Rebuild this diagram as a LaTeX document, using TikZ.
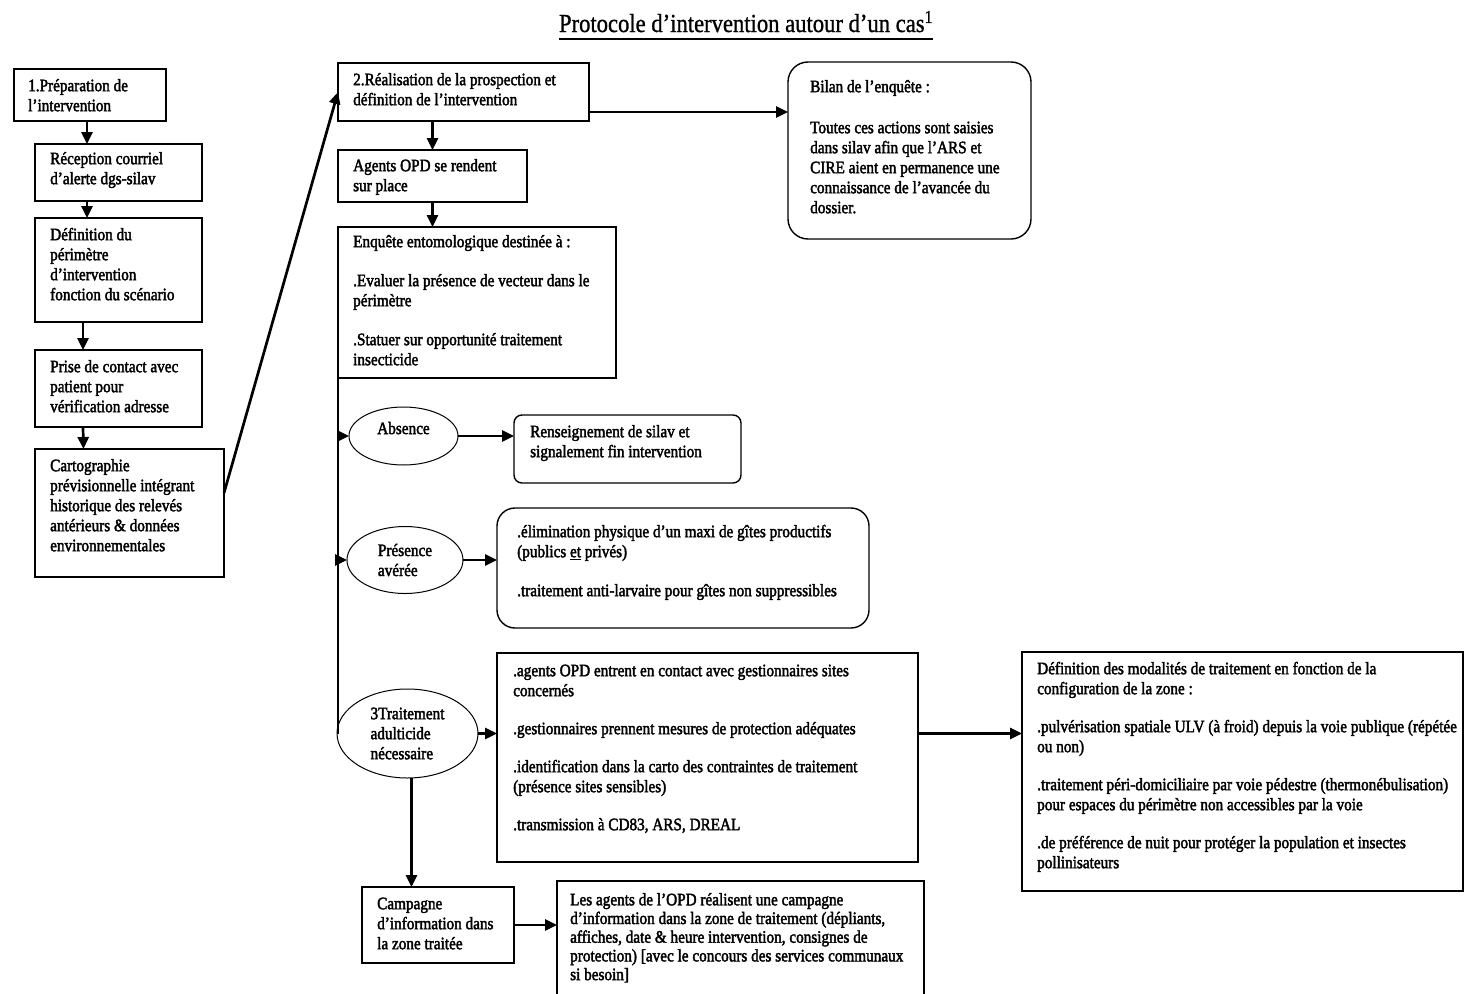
\documentclass[tikz,border=0pt]{standalone}
\usepackage{fontspec}
\usetikzlibrary{arrows.meta,shapes.geometric}
\newfontfamily\bodyfam{Liberation Serif}[FakeStretch=0.87,FakeBold=2.2]
\newfontfamily\titlefam{Liberation Serif}[FakeStretch=0.87,FakeBold=1]
\newcommand\txtf{\bodyfam\fontsize{17.5pt}{20pt}\selectfont}
\newcommand\lesf{\bodyfam\fontsize{17.5pt}{18.7pt}\selectfont}
\newcommand\titf{\titlefam\fontsize{26pt}{30pt}\selectfont}
\begin{document}
\begin{tikzpicture}[x=1pt,y=-1pt,
  boxn/.style={draw, line width=1.4pt, anchor=north west, inner sep=0pt, outer sep=0pt},
  ell/.style={draw, ellipse, line width=1pt, inner sep=0pt, outer sep=0pt, align=left, font=\txtf},
  txt/.style={anchor=north west, inner sep=0pt, align=left, font=\txtf},
  arr/.style={line width=2.7pt, -{Triangle[length=12pt,width=11pt]}},
  trunk/.style={line width=1.4pt}]
\useasboundingbox (0,0) rectangle (1464,993);
\clip (0,0) rectangle (1464,993);

% title
\node[font=\titf, inner sep=0pt, anchor=base] (title) at (746,32) {Protocole d’intervention autour d’un cas\textsuperscript{1}};
\draw[line width=2pt] ([yshift=-7pt]title.base west) -- ([yshift=-7pt]title.base east);

% left column
\node[boxn, minimum width=152pt, minimum height=52pt] (b1) at (14,69) {};
\node[txt] (t1) at (28,77) {\strut 1.Préparation de\\l’intervention};
\node[boxn, minimum width=167pt, minimum height=57pt] (b2) at (35,144) {};
\node[txt] (t2) at (50,150) {\strut Réception courriel\\d’alerte dgs-silav};
\node[boxn, minimum width=167pt, minimum height=104pt] (b3) at (35,218) {};
\node[txt] (t3) at (50,226) {\strut Définition du\\périmètre\\d’intervention\\fonction du scénario};
\node[boxn, minimum width=167pt, minimum height=77pt] (b4) at (35,350) {};
\node[txt] (t4) at (50,358) {\strut Prise de contact avec\\patient pour\\vérification adresse};
\node[boxn, minimum width=189pt, minimum height=128pt] (b5) at (35,449) {};
\node[txt] (t5) at (50,457) {\strut Cartographie\\prévisionnelle intégrant\\historique des relevés\\antérieurs \& données\\environnementales};

% middle column
\node[boxn, minimum width=251pt, minimum height=58pt] (real) at (338,63) {};
\node[txt] (treal) at (353,71) {\strut 2.Réalisation de la prospection et\\définition de l’intervention};
\node[boxn, minimum width=189pt, minimum height=52pt] (agents) at (338,150) {};
\node[txt] (tag) at (353,157) {\strut Agents OPD se rendent\\sur place};
\node[boxn, minimum width=278pt, minimum height=151pt] (enq) at (338,227) {};
\node[txt] (tenq) at (353,233) {\strut Enquête entomologique destinée à :\\[19pt].Evaluer la présence de vecteur dans le\\périmètre\\[19pt].Statuer sur opportunité traitement\\insecticide};

% bilan
\node[boxn, rounded corners=20pt, minimum width=243pt, minimum height=177pt] (bilan) at (788,62) {};
\node[txt] (tbil) at (810,78) {\strut Bilan de l’enquête :\\[21pt]Toutes ces actions sont saisies\\dans silav afin que l’ARS et\\CIRE aient en permanence une\\connaissance de l’avancée du\\dossier.};

% ellipses
\node[ell, minimum width=109pt, minimum height=58pt] (abs) at (403.5,436) {Absence\\[-4pt]\mbox{}};
\node[ell, minimum width=116pt, minimum height=67pt] (pell) at (405,560) {Présence\\avérée};
\node[ell, minimum width=141pt, minimum height=89pt] (trait) at (407.5,733.5) {3Traitement\\adulticide\\nécessaire};

% outcome boxes
\node[boxn, rounded corners=8pt, minimum width=227pt, minimum height=68pt] (rens) at (514,415) {};
\node[txt] (trens) at (530,423) {\strut Renseignement de silav et\\signalement fin intervention};
\node[boxn, rounded corners=18pt, minimum width=372pt, minimum height=120pt] (pbox) at (497,508) {};
\node[txt] (tpres) at (517,523) {\strut .élimination physique d’un maxi de gîtes productifs\\(publics \underline{et} privés)\\[19pt].traitement anti-larvaire pour gîtes non suppressibles};
\node[boxn, minimum width=421pt, minimum height=209pt] (tbox) at (497,653) {};
\node[txt] (ttb) at (513,662) {\strut .agents OPD entrent en contact avec gestionnaires sites\\concernés\\[18pt].gestionnaires prennent mesures de protection adéquates\\[18pt].identification dans la carto des contraintes de traitement\\(présence sites sensibles)\\[18pt].transmission à CD83, ARS, DREAL};
\node[boxn, minimum width=441pt, minimum height=239pt] (rbox) at (1022,652) {};
\node[txt] (trb) at (1037,660) {\strut Définition des modalités de traitement en fonction de la\\configuration de la zone :\\[18pt].pulvérisation spatiale ULV (à froid) depuis la voie publique (répétée\\ou non)\\[18pt].traitement péri-domiciliaire par voie pédestre (thermonébulisation)\\pour espaces du périmètre non accessibles par la voie\\[18pt].de préférence de nuit pour protéger la population et insectes\\pollinisateurs};
\node[boxn, minimum width=152pt, minimum height=76pt] (camp) at (362,887) {};
\node[txt] (tcamp) at (377,895) {\strut Campagne\\d’information dans\\la zone traitée};
\node[boxn, minimum width=367pt, minimum height=150pt] (lesag) at (557,881) {};
\node[txt, font=\lesf] (tles) at (570,892) {\strut Les agents de l’OPD réalisent une campagne\\d’information dans la zone de traitement (dépliants,\\affiches, date \& heure intervention, consignes de\\protection) [avec le concours des services communaux\\si besoin]};

% connectors
\draw[arr] ([xshift=-3pt]b1.south) -- ([xshift=-31.5pt]b2.north);
\draw[arr] ([xshift=-31.5pt]b2.south) -- ([xshift=-31.5pt]b3.north);
\draw[arr] ([xshift=-35.5pt]b3.south) -- ([xshift=-35.5pt]b4.north);
\draw[arr] ([xshift=-35.5pt]b4.south) -- ([xshift=-46pt]b5.north);
\draw[arr] ([yshift=20pt]b5.east) -- (real.west);
\draw[arr] (real.south -| agents.north) -- (agents.north);
\draw[arr] (agents.south) -- (agents.south |- enq.north);
\draw[arr] ([yshift=-20pt]real.east) -- ([yshift=-20pt]real.east -| bilan.west);
\draw[trunk] (enq.south west) -- (enq.south west |- trait.west);
\draw[arr] (abs.west -| enq.south west) -- (abs.west);
\draw[arr] (pell.west -| enq.south west) -- (pell.west);
\draw[arr] (abs.east) -- (abs.east -| rens.west);
\draw[arr] (pell.east) -- (pell.east -| pbox.west);
\draw[arr] (trait.east) -- (trait.east -| tbox.west);
\draw[arr] (trait.east -| tbox.east) -- (trait.east -| rbox.west);
\draw[arr] ([xshift=4pt]trait.south) -- ([xshift=4pt]trait.south |- camp.north);
\draw[arr] (camp.east) -- (camp.east -| lesag.west);
\end{tikzpicture}
\end{document}
